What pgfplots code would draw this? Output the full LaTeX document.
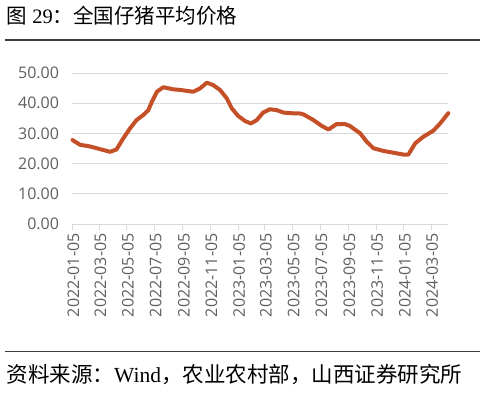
\documentclass[border=0pt]{standalone}
\usepackage{fontspec}
\usepackage{pgfplots}
\pgfplotsset{compat=1.18}
\setmainfont{Liberation Serif}
\newfontfamily\cjk{Noto Sans CJK SC}
\newfontfamily\tickfont{Open Sans}
\definecolor{lineorange}{RGB}{197,80,40}
\definecolor{gridgray}{RGB}{217,217,217}
\definecolor{ticktext}{RGB}{95,95,95}
\definecolor{rulegray}{RGB}{60,60,60}
\begin{document}
\begin{tikzpicture}
\path[use as bounding box] (0,0) rectangle (485pt,-392pt);
\node[anchor=base west, inner sep=0pt, text=black] at (6.5pt,-23pt)
  {\fontsize{20.5}{24}\selectfont{\cjk 图} 29{\cjk ：全国仔猪平均价格}};
\draw[rulegray, line width=1.2pt] (5pt,-40pt) -- (480pt,-40pt);
\draw[rulegray, line width=1.2pt] (5pt,-351.5pt) -- (480pt,-351.5pt);
\node[anchor=base west, inner sep=0pt, text=black] at (6.5pt,-382pt)
  {\fontsize{21.5}{25}\selectfont{\cjk 资料来源：}Wind{\cjk ，农业农村部，山西证券研究所}};
\begin{axis}[
  at={(72.5pt,-224pt)}, anchor=south west,
  scale only axis, width=375.8pt, height=151pt,
  xmin=0, xmax=828, ymin=0, ymax=50,
  ytick={0,10,20,30,40,50},
  xtick={0,59,120,181,243,304,365,424,485,546,608,669,730,790},
  xticklabels={2022-01-05,2022-03-05,2022-05-05,2022-07-05,2022-09-05,2022-11-05,2023-01-05,2023-03-05,2023-05-05,2023-07-05,2023-09-05,2023-11-05,2024-01-05,2024-03-05},
  separate axis lines,
  axis x line*=bottom, axis y line*=left,
  x axis line style={draw=gridgray, line width=1pt, -},
  y axis line style={draw=none},
  ymajorgrids, grid style={draw=gridgray, line width=1pt},
  tick align=outside, major tick length=6pt,
  xtick style={draw=gridgray, line width=1pt},
  ytick style={draw=none},
  ticklabel style={font=\tickfont\fontsize{16}{19}\selectfont, text=ticktext},
  xticklabel style={rotate=90, anchor=east, yshift=-1pt},
  yticklabel style={anchor=east, xshift=-4pt},
  /pgf/number format/assume math mode=true,
  yticklabel={\pgfmathprintnumber[fixed, fixed zerofill, precision=2]{\tick}},
  clip=false,
]
\addplot[color=lineorange, line width=4pt, line join=round, line cap=round] table {
x y
0 27.8
17 26.2
35 25.8
53 25.1
68 24.5
83 23.9
97 24.7
112 28.4
127 31.7
141 34.4
156 36.1
167 37.7
175 40.5
186 43.8
200 45.3
222 44.6
237 44.4
266 43.8
281 44.9
296 46.8
310 46.0
325 44.4
340 41.6
351 38.3
365 35.8
380 34.1
393 33.3
406 34.4
420 36.9
435 38.0
450 37.7
465 36.9
479 36.7
501 36.6
509 36.3
531 34.4
549 32.5
564 31.3
582 33.1
600 33.1
611 32.5
634 30.0
648 27.3
663 25.1
685 24.2
707 23.6
729 23.0
740 23.0
755 26.7
773 28.9
795 30.9
810 33.3
828 36.7
};
\end{axis}
\end{tikzpicture}
\end{document}
